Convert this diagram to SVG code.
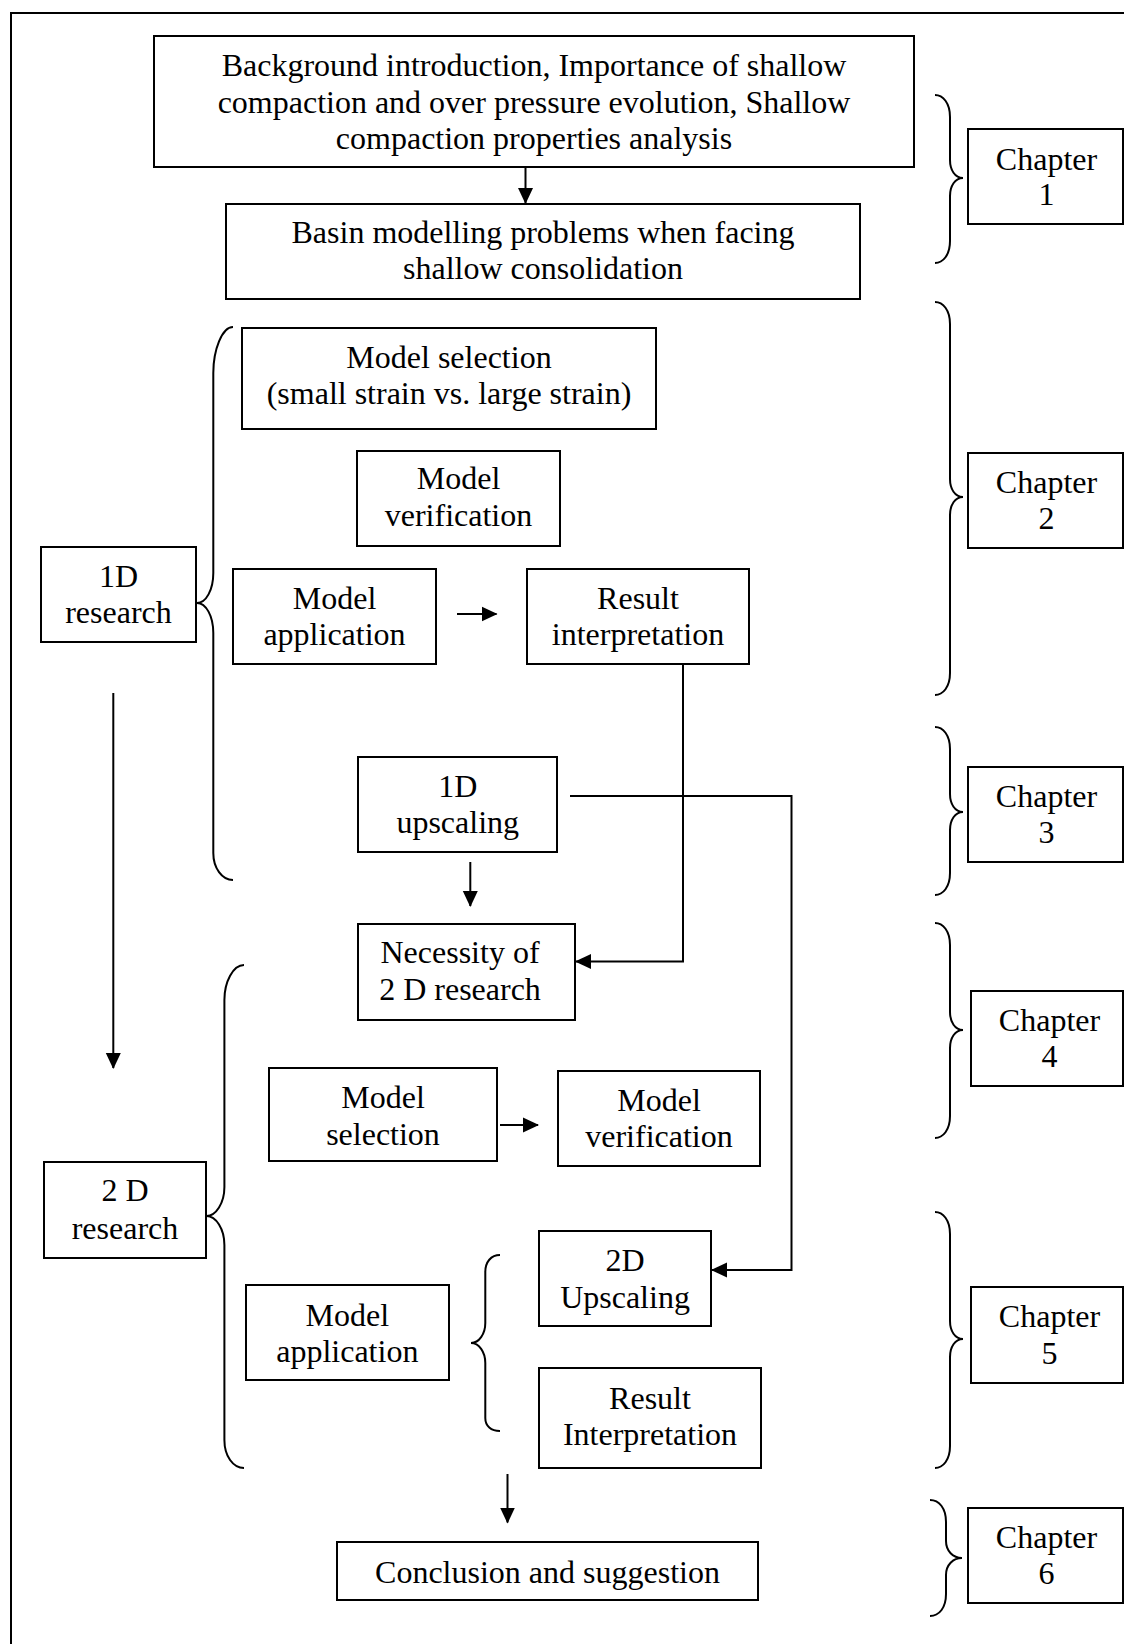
<svg xmlns="http://www.w3.org/2000/svg" width="1124" height="1644" viewBox="0 0 1124 1644">
<defs>
<style>
.box{fill:#fff;stroke:#000;stroke-width:2}
.t{font-family:"Liberation Serif","Times New Roman",serif;font-size:32px;fill:#000;text-anchor:middle}
.ln{fill:none;stroke:#000;stroke-width:2}
.br{fill:none;stroke:#000;stroke-width:2}
</style>
<marker id="ah" markerUnits="userSpaceOnUse" markerWidth="16" markerHeight="16" viewBox="0 0 16 16" refX="15" refY="8" orient="auto">
<path d="M0,0.5 L16,8 L0,15.5 z" fill="#000"/>
</marker>
</defs>
<rect width="1124" height="1644" fill="#fff"/>
<rect x="11" y="13" width="1160" height="1680" fill="none" stroke="#000" stroke-width="2"/>

<g id="braces">
<path class="br" d="M935,95 C943,95 950,103 950,117 L950,160 C950,170 955,178 963,178 C955,178 950,186 950,196 L950,241 C950,255 943,263 935,263"/>
<path class="br" d="M935,302 C943,302 950,310 950,324 L950,479 C950,489 955,497 963,497 C955,497 950,505 950,515 L950,673 C950,687 943,695 935,695"/>
<path class="br" d="M935,727 C943,727 950,735 950,749 L950,794 C950,804 955,812 963,812 C955,812 950,820 950,830 L950,873 C950,887 943,895 935,895"/>
<path class="br" d="M935,923 C943,923 950,931 950,945 L950,1012 C950,1022 955,1030 963,1030 C955,1030 950,1038 950,1048 L950,1116 C950,1130 943,1138 935,1138"/>
<path class="br" d="M935,1212 C943,1212 950,1220 950,1234 L950,1321 C950,1331 955,1339 963,1339 C955,1339 950,1347 950,1357 L950,1446 C950,1460 943,1468 935,1468"/>
<path class="br" d="M930,1500 C939,1500 946,1508 946,1522 L946,1541 C946,1551 953,1558 962,1558 C953,1558 946,1565 946,1575 L946,1594 C946,1608 939,1616 930,1616"/>
<path class="br" d="M233,327 C222,327 213.3,350 213.3,373 L213.3,573 C213.3,590 206,603 197,603 C206,603 213.3,616 213.3,633 L213.3,853 C213.3,868 222,880 233,880"/>
<path class="br" d="M244,965 C233,965 224.4,982 224.4,1000 L224.4,1187 C224.4,1203 216,1216 206.5,1216 C216,1216 224.4,1229 224.4,1245 L224.4,1440 C224.4,1456 233,1468 244,1468"/>
<path class="br" d="M500,1255 C491,1255 485.3,1262 485.3,1272 L485.3,1323 C485.3,1334 479,1343 471,1343 C479,1343 485.3,1352 485.3,1363 L485.3,1418 C485.3,1426 491,1431 500,1431"/>
</g>

<g id="connectors">
<line class="ln" x1="525.5" y1="167" x2="525.5" y2="203" marker-end="url(#ah)"/>
<line class="ln" x1="457" y1="614" x2="496.5" y2="614" marker-end="url(#ah)"/>
<polyline class="ln" points="683,664 683,961.5 576,961.5" marker-end="url(#ah)"/>
<line class="ln" x1="113.3" y1="693" x2="113.3" y2="1068" marker-end="url(#ah)"/>
<line class="ln" x1="470.3" y1="862" x2="470.3" y2="906" marker-end="url(#ah)"/>
<polyline class="ln" points="570,796 791.5,796 791.5,1270 712,1270" marker-end="url(#ah)"/>
<line class="ln" x1="500" y1="1125" x2="538" y2="1125" marker-end="url(#ah)"/>
<line class="ln" x1="507.5" y1="1474" x2="507.5" y2="1522.5" marker-end="url(#ah)"/>
</g>

<g id="n-background"><rect class="box" x="154" y="36" width="760" height="131"/>
<text class="t" x="534" y="76">Background introduction, Importance of shallow</text>
<text class="t" x="534" y="112.7">compaction and over pressure evolution, Shallow</text>
<text class="t" x="534" y="149.3">compaction properties analysis</text></g>

<g id="n-basin"><rect class="box" x="226" y="204" width="634" height="95"/>
<text class="t" x="543" y="242.7">Basin modelling problems when facing</text>
<text class="t" x="543" y="279.3">shallow consolidation</text></g>

<g id="n-ch1"><rect class="box" x="968" y="129" width="155" height="95"/>
<text class="t" x="1046.5" y="170">Chapter</text><text class="t" x="1046.5" y="205">1</text></g>

<g id="n-1d-research"><rect class="box" x="41" y="547" width="155" height="95"/>
<text class="t" x="118.5" y="587.3">1D</text><text class="t" x="118.5" y="623.3">research</text></g>

<g id="n-model-selection-1d"><rect class="box" x="242" y="328" width="414" height="101"/>
<text class="t" x="449" y="368">Model selection</text>
<text class="t" x="449" y="404">(small strain vs. large strain)</text></g>

<g id="n-model-verification-1d"><rect class="box" x="357" y="451" width="203" height="95"/>
<text class="t" x="458.5" y="489.3">Model</text><text class="t" x="458.5" y="526">verification</text></g>

<g id="n-model-application-1d"><rect class="box" x="233" y="569" width="203" height="95"/>
<text class="t" x="334.5" y="609.3">Model</text><text class="t" x="334.5" y="645">application</text></g>

<g id="n-result-1d"><rect class="box" x="527" y="569" width="222" height="95"/>
<text class="t" x="638" y="609.3">Result</text><text class="t" x="638" y="645">interpretation</text></g>

<g id="n-ch2"><rect class="box" x="968" y="453" width="155" height="95"/>
<text class="t" x="1046.5" y="493.3">Chapter</text><text class="t" x="1046.5" y="529.3">2</text></g>

<g id="n-1d-upscaling"><rect class="box" x="358" y="757" width="199" height="95"/>
<text class="t" x="457.7" y="797.3">1D</text><text class="t" x="457.7" y="833.3">upscaling</text></g>

<g id="n-ch3"><rect class="box" x="968" y="767" width="155" height="95"/>
<text class="t" x="1046.5" y="806.7">Chapter</text><text class="t" x="1046.5" y="843.3">3</text></g>

<g id="n-necessity"><rect class="box" x="358" y="924" width="217" height="96"/>
<text class="t" x="460" y="963.3">Necessity of</text><text class="t" x="460" y="1000">2 D research</text></g>

<g id="n-ch4"><rect class="box" x="971" y="991" width="152" height="95"/>
<text class="t" x="1049.5" y="1031">Chapter</text><text class="t" x="1049.5" y="1066.7">4</text></g>

<g id="n-model-selection-2d"><rect class="box" x="269" y="1068" width="228" height="93"/>
<text class="t" x="383" y="1108.3">Model</text><text class="t" x="383" y="1145">selection</text></g>

<g id="n-model-verification-2d"><rect class="box" x="558" y="1071" width="202" height="95"/>
<text class="t" x="659" y="1110.7">Model</text><text class="t" x="659" y="1146.8">verification</text></g>

<g id="n-2d-research"><rect class="box" x="44" y="1162" width="162" height="96"/>
<text class="t" x="125" y="1201.3">2 D</text><text class="t" x="125" y="1238.8">research</text></g>

<g id="n-2d-upscaling"><rect class="box" x="539" y="1231" width="172" height="95"/>
<text class="t" x="625" y="1270.7">2D</text><text class="t" x="625" y="1308.2">Upscaling</text></g>

<g id="n-model-application-2d"><rect class="box" x="246" y="1285" width="203" height="95"/>
<text class="t" x="347.3" y="1325.5">Model</text><text class="t" x="347.3" y="1362">application</text></g>

<g id="n-result-2d"><rect class="box" x="539" y="1368" width="222" height="100"/>
<text class="t" x="650" y="1408.8">Result</text><text class="t" x="650" y="1445.2">Interpretation</text></g>

<g id="n-ch5"><rect class="box" x="971" y="1287" width="152" height="96"/>
<text class="t" x="1049.5" y="1327.3">Chapter</text><text class="t" x="1049.5" y="1364.4">5</text></g>

<g id="n-conclusion"><rect class="box" x="337" y="1542" width="421" height="58"/>
<text class="t" x="547.5" y="1583">Conclusion and suggestion</text></g>

<g id="n-ch6"><rect class="box" x="968" y="1508" width="155" height="95"/>
<text class="t" x="1046.5" y="1547.6">Chapter</text><text class="t" x="1046.5" y="1584">6</text></g>
</svg>
